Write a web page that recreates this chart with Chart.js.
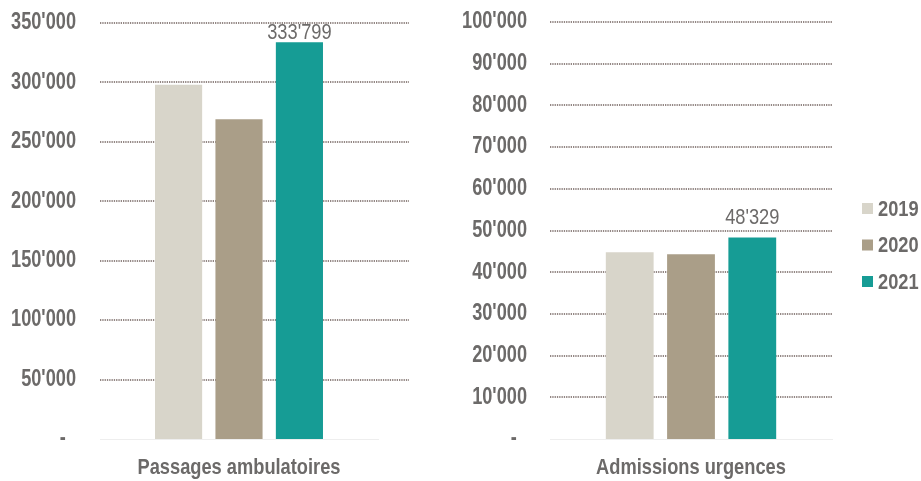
<!DOCTYPE html>
<html>
<head>
<meta charset="utf-8">
<script src="https://cdn.jsdelivr.net/npm/chart.js@4.4.1/dist/chart.umd.min.js"></script>
<style>
  html, body { margin: 0; padding: 0; background: #ffffff; }
  #wrap { position: relative; width: 921px; height: 481px; overflow: hidden; }
  #leftBox { position: absolute; left: 0; top: 0; width: 440px; height: 481px; }
  #rightBox { position: absolute; left: 440px; top: 0; width: 481px; height: 481px; }
</style>
</head>
<body>
<div id="wrap">
  <div id="leftBox"><canvas id="passagesChart" width="440" height="481"></canvas></div>
  <div id="rightBox"><canvas id="admissionsChart" width="481" height="481"></canvas></div>
</div>
<script>
// ============================
// DATA
// ============================

const years = ["2019", "2020", "2021"];
const yearColors = ["#d8d5ca", "#aa9e88", "#169c95"];

const passagesLabel = ["Passages ambulatoires"];
const passagesValues = [298000, 269000, 333799];
const passagesMax = 350000;
const passagesStep = 50000;

const admissionsLabel = ["Admissions urgences"];
const admissionsValues = [44800, 44300, 48329];
const admissionsMax = 100000;
const admissionsStep = 10000;

// ============================
// HELPERS
// ============================

const fontFamily = "'Liberation Sans', Arial, sans-serif";
const textGray = "#6c6a69";

function swissNumber(v) {
    // accounting style: zero is a dash with some space after it
    if (v === 0) return "-\u00a0\u00a0";
    return String(Math.round(v)).replace(/\B(?=(\d{3})+(?!\d))/g, "'");
}

// the original uses a narrow face: draw Liberation Sans squeezed
function drawSqueezed(ctx, text, px, py, align, baseline, font, squeeze) {
    ctx.save();
    ctx.translate(px, py);
    ctx.scale(squeeze, 1);
    ctx.font = font;
    ctx.fillStyle = textGray;
    ctx.textAlign = align;
    ctx.textBaseline = baseline;
    ctx.fillText(text, 0, 0);
    ctx.restore();
}

function buildDatasets(values) {
    return years.map((year, i) => ({
        label: year,
        data: [values[i]],
        backgroundColor: yearColors[i],
        borderWidth: 0,
        barPercentage: 0.78,
        categoryPercentage: 0.652
    }));
}

// dotted grid lines, taken from the y scale ticks
const dottedGrid = {
    id: "dottedGrid",
    beforeDatasetsDraw(chart, args, opts) {
        const { ctx, chartArea, scales } = chart;
        const y = scales.y;
        ctx.save();
        ctx.strokeStyle = "rgba(128,114,110,0.85)";
        ctx.lineWidth = 2;
        ctx.setLineDash([1.3, 1]);
        y.ticks.forEach(t => {
            if (t.value === 0) return;
            const py = Math.round(y.getPixelForValue(t.value));
            ctx.beginPath();
            ctx.moveTo(chartArea.left, py);
            ctx.lineTo(chartArea.right + (opts.extend || 0), py);
            ctx.stroke();
        });
        ctx.restore();
    }
};

// tick labels, category label, value label and legend
const chartTexts = {
    id: "chartTexts",
    afterDraw(chart, args, opts) {
        const { ctx, chartArea, scales } = chart;
        const bold = "bold 22px " + fontFamily;

        scales.y.ticks.forEach(t => {
            drawSqueezed(ctx, swissNumber(t.value), chartArea.left - opts.tickGap,
                scales.y.getPixelForValue(t.value), "right", "middle",
                "bold 23px " + fontFamily, 0.79);
        });

        chart.data.labels.forEach((label, i) => {
            drawSqueezed(ctx, label, scales.x.getPixelForValue(i),
                chartArea.bottom + 35, "center", "alphabetic", bold, 0.83);
        });

        const last = chart.data.datasets.length - 1;
        chart.getDatasetMeta(last).data.forEach((bar, i) => {
            drawSqueezed(ctx, swissNumber(chart.data.datasets[last].data[i]),
                bar.x, bar.y - opts.valueOffset, "center", "alphabetic",
                "22px " + fontFamily, 0.83);
        });

        if (opts.legend) {
            const midY = (chartArea.top + chartArea.bottom) / 2;
            chart.data.datasets.forEach((ds, i) => {
                const cy = midY - 22 + i * 36.5;
                const bx = chartArea.right + 30;
                ctx.fillStyle = ds.backgroundColor;
                ctx.fillRect(bx, cy - 5.5, 11, 11);
                drawSqueezed(ctx, ds.label, bx + 16, cy + 1, "left", "middle", bold, 0.83);
            });
        }
    }
};

function scaleOptions(max, step, axisWidth) {
    return {
        x: {
            grid: { display: false, drawTicks: false },
            border: { display: true, color: "#eeeeee", width: 1 },
            ticks: { display: false },
            afterFit: scale => { scale.height = 42; }
        },
        y: {
            min: 0,
            max: max,
            grid: { display: false, drawTicks: false },
            border: { display: false },
            ticks: { display: false, stepSize: step },
            afterFit: scale => { scale.width = axisWidth; }
        }
    };
}

// ============================
// PASSAGES AMBULATOIRES
// ============================

new Chart(document.getElementById("passagesChart"), {
    type: "bar",
    data: {
        labels: passagesLabel,
        datasets: buildDatasets(passagesValues)
    },
    options: {
        responsive: false,
        animation: false,
        layout: { padding: { top: 23, right: 62, bottom: 0, left: 0 } },
        plugins: {
            legend: { display: false },
            tooltip: { enabled: false },
            dottedGrid: { extend: 31 },
            chartTexts: { tickGap: 24, valueOffset: 3, legend: false }
        },
        scales: scaleOptions(passagesMax, passagesStep, 100)
    },
    plugins: [dottedGrid, chartTexts]
});

// ============================
// ADMISSIONS URGENCES
// ============================

new Chart(document.getElementById("admissionsChart"), {
    type: "bar",
    data: {
        labels: admissionsLabel,
        datasets: buildDatasets(admissionsValues)
    },
    options: {
        responsive: false,
        animation: false,
        layout: { padding: { top: 22, right: 89, bottom: 0, left: 0 } },
        plugins: {
            legend: { display: false },
            tooltip: { enabled: false },
            dottedGrid: { extend: 0 },
            chartTexts: { tickGap: 23, valueOffset: 13, legend: true }
        },
        scales: scaleOptions(admissionsMax, admissionsStep, 110)
    },
    plugins: [dottedGrid, chartTexts]
});
</script>
</body>
</html>
